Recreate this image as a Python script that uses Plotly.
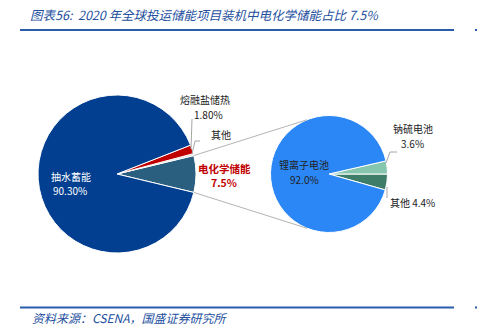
import math
import plotly.graph_objects as go

W, H = 477, 336

# ---- data ----
title_text = "图表56:  2020 年全球投运储能项目装机中电化学储能占比 7.5%"
source_text = "资料来源：CSENA，国盛证券研究所"

big_labels = ["电化学储能", "其他", "熔融盐储热", "抽水蓄能"]
big_values = [7.5, 0.4, 1.8, 90.3]
big_pct = ["7.5%", "", "1.80%", "90.30%"]
big_colors = ["#2A5F80", "#DADADA", "#C00000", "#023F91"]

small_labels = ["其他", "钠硫电池", "锂离子电池"]
small_values = [4.4, 3.6, 92.0]
small_pct = ["4.4%", "3.6%", "92.0%"]
small_colors = ["#3E7D67", "#86C5AE", "#2B87F6"]

# ---- geometry helpers ----
def px(x):
    return x / W

def py(y):
    return 1 - y / H

BIG_C, BIG_R = (117, 174), 79
SM_C, SM_R = (329, 174), 58.5

def dom(c, r):
    return dict(x=[px(c[0] - r), px(c[0] + r)], y=[py(c[1] + r), py(c[1] - r)])

# plotly (counterclockwise): first slice's trailing edge sits at `rotation`
big_rot = 90 - big_values[0] * 3.6 / 2
small_rot = 90

fig = go.Figure()
fig.add_trace(go.Pie(
    labels=big_labels, values=big_values, sort=False, direction="counterclockwise",
    rotation=big_rot, domain=dom(BIG_C, BIG_R), textinfo="none",
    marker=dict(colors=big_colors, line=dict(color="white", width=1)),
    showlegend=False, hoverinfo="label+value",
))
fig.add_trace(go.Pie(
    labels=small_labels, values=small_values, sort=False, direction="counterclockwise",
    rotation=small_rot, domain=dom(SM_C, SM_R), textinfo="none",
    marker=dict(colors=small_colors, line=dict(color="white", width=1)),
    showlegend=False, hoverinfo="label+value",
))

shapes = []
def line(x0, y0, x1, y1, color="#A6A6A6", width=1):
    shapes.append(dict(type="line", xref="paper", yref="paper",
                       x0=px(x0), y0=py(y0), x1=px(x1), y1=py(y1),
                       line=dict(color=color, width=width)))

# connector lines between the electrochemical slice and the second pie
half = math.radians(big_values[0] * 3.6 / 2)
for s in (1, -1):
    x0 = BIG_C[0] + BIG_R * math.cos(half)
    y0 = BIG_C[1] - s * BIG_R * math.sin(half)
    a = math.radians(112)
    x1 = SM_C[0] + SM_R * math.cos(a)
    y1 = SM_C[1] - s * SM_R * math.sin(a)
    line(x0, y0, x1, y1, color="#B4B4B4")

# leader lines
line(191, 149, 192, 119)
line(192, 154, 195, 141); line(195, 141, 200, 141)
line(386, 163, 390, 152); line(390, 152, 397, 152)
line(387, 187, 387, 198)

# header / footer rules
blue = "#2A5CAA"
line(20, 30, 454, 30, color=blue, width=2)
line(475, 30, 477, 30, color=blue, width=2)
line(20, 307.5, 454, 307.5, color=blue, width=2)
line(475, 307.5, 477, 307.5, color=blue, width=2)

annotations = []
CJK = "Noto Sans CJK SC"
def ann(x, y, text, color="#222222", size=10, xanchor="center", italic=False):
    annotations.append(dict(x=px(x), y=py(y), xref="paper", yref="paper", text=text,
                            showarrow=False, xanchor=xanchor, yanchor="middle",
                            font=dict(family=CJK, size=size, color=color,
                                      style="italic" if italic else "normal")))

ann(28, 15, title_text, color="#24509E", size=12.5, xanchor="left", italic=True)
ann(30, 317, source_text, color="#24509E", size=12, xanchor="left", italic=True)

ann(71, 176, big_labels[3], color="white")
ann(70, 190, big_pct[3], color="white")
ann(205, 99, big_labels[2])
ann(208, 114, big_pct[2])
ann(221, 134, big_labels[1])
ann(224, 168, "<b>" + big_labels[0] + "</b>", color="#C00000", size=10.5)
ann(224, 182, "<b>" + big_pct[0] + "</b>", color="#C00000", size=10.5)

ann(304, 164, small_labels[2])
ann(304, 179, small_pct[2])
ann(413, 128, small_labels[1])
ann(412, 143, small_pct[1])
ann(412, 202, small_labels[0] + " " + small_pct[0])

fig.update_layout(
    width=W, height=H, margin=dict(l=0, r=0, t=0, b=0),
    paper_bgcolor="white", plot_bgcolor="white",
    shapes=shapes, annotations=annotations,
)
fig.write_html("out.html")
